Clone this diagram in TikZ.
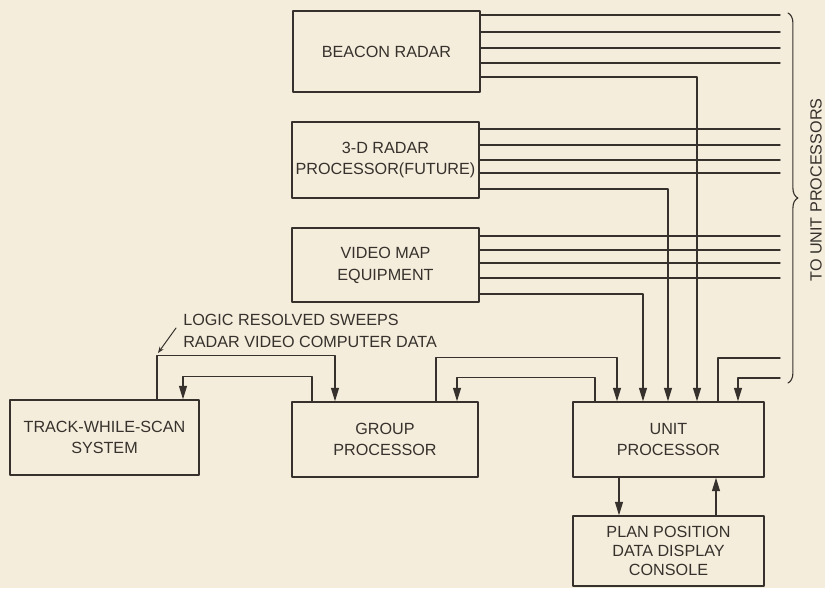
\documentclass[tikz,border=0pt]{standalone}
\usepackage{fontspec}
\setmainfont{Liberation Sans}
\usepackage{tikz}
\usetikzlibrary{arrows.meta,decorations.pathreplacing}
\definecolor{paper}{HTML}{F4EDDC}
\definecolor{ink}{HTML}{36312C}
\tikzset{
  every picture/.style={line join=round, line cap=round, >={Triangle[length=9.5pt,width=5.6pt]}},
  unitbox/.style={draw=ink, line width=1pt, minimum width=4.675cm, minimum height=1.875cm, align=center, inner sep=0pt, text=ink, font=\fontsize{11.5}{15.5}\selectfont},
  wire/.style={draw=ink, line width=1pt},
}

\begin{document}
\begin{tikzpicture}[x=0.025cm,y=-0.025cm]
\fill[paper](0,0)rectangle(825,588);
\useasboundingbox(0,0)rectangle(825,588);
\node[unitbox,minimum height=2.025cm](beacon)at(386.5,51.5){BEACON RADAR};
\node[unitbox,minimum height=1.9cm](radar3d)at(385.5,160){3-D RADAR\\PROCESSOR(FUTURE)};
\node[unitbox,minimum height=1.85cm](vidmap)at(385.5,265){VIDEO MAP\\EQUIPMENT};
\node[unitbox,minimum width=4.725cm](tws)at(104.5,437.5){TRACK-WHILE-SCAN\\SYSTEM};
\node[unitbox,minimum width=4.65cm](group)at(385,439.5){GROUP\\PROCESSOR};
\node[unitbox,minimum width=4.775cm](unit)at(668.5,439.5){UNIT\\PROCESSOR};
\node[unitbox,minimum width=4.775cm,minimum height=1.75cm,font=\fontsize{11.5}{13.5}\selectfont](ppdd)at(668.5,551){PLAN POSITION\\DATA DISPLAY\\CONSOLE};
\node[anchor=west,align=left,inner sep=0pt,text=ink,font=\fontsize{11.5}{15.5}\selectfont](busnote)at(183,331){LOGIC RESOLVED SWEEPS\\RADAR VIDEO COMPUTER DATA};
\node[rotate=90,inner sep=0pt,text=ink,font=\fontsize{11.5}{14}\selectfont](bracenote)at(816,190){TO UNIT PROCESSORS};
\coordinate(outa)at(780,358);
\coordinate(outb)at(780,378);
\coordinate(notetail)at(176,328);
\coordinate(notehead)at(158,353);
\foreach \y in {15,32,48,63} \draw[wire](beacon.east|-0,\y)--(780,\y);
\foreach \y in {129,145,160,173} \draw[wire](radar3d.east|-0,\y)--(780,\y);
\foreach \y in {236,250,263,278} \draw[wire](vidmap.east|-0,\y)--(780,\y);
\draw[wire,->](beacon.east|-0,77)-|(unit.north-|697,0);
\draw[wire,->](radar3d.east|-0,189)-|(unit.north-|668,0);
\draw[wire,->](vidmap.east|-0,294)-|(unit.north-|643,0);
\draw[wire,->](tws.north-|157,0)--++(0,-44)-|(group.north-|335,0);
\draw[wire,->](group.north-|312,0)--++(0,-25)-|(tws.north-|183,0);
\draw[wire,->](group.north-|436,0)--++(0,-44)-|(unit.north-|617,0);
\draw[wire,->](unit.north-|595,0)--++(0,-24)-|(group.north-|457,0);
\draw[wire](unit.north-|718,0)|-(outa);
\draw[wire,->](outb)-|(unit.north-|738,0);
\draw[wire,->](unit.south-|619,0)--(ppdd.north-|619,0);
\draw[wire,->](ppdd.north-|716,0)--(unit.south-|716,0);
\draw[draw=ink,line width=0.7pt,-{Stealth[length=4.5pt,width=3.5pt]}](notetail)--(notehead);
\draw[draw=ink,line width=0.8pt,decorate,decoration={brace,amplitude=7pt}](788,13)--(788,383);
\end{tikzpicture}
\end{document}
